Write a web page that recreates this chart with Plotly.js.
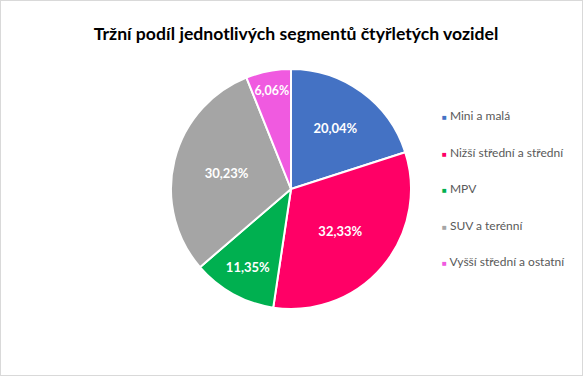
<!DOCTYPE html>
<html>
<head>
<meta charset="utf-8">
<script src="https://cdn.plot.ly/plotly-3.0.1.min.js"></script>
<style>
html,body{margin:0;padding:0;background:#fff;}
#wrap{position:absolute;left:0;top:0;width:581px;height:374px;border:1px solid #d9d9d9;overflow:hidden;}
</style>
</head>
<body>
<div id="wrap"><div id="chart"></div></div>
<script>
const categories = ["Mini a malá", "Nižší střední a střední", "MPV", "SUV a terénní", "Vyšší střední a ostatní"];
const shares = [20.04, 32.33, 11.35, 30.23, 6.06];
const colors = ["#4472C4", "#FF0066", "#00B050", "#A5A5A5", "#F05AE0"];
const titleText = "Tržní podíl jednotlivých segmentů čtyřletých vozidel";

const W = 581, H = 374;
const cx = 290, cy = 188, R = 120;

const traces = [{
  type: "pie",
  labels: categories,
  values: shares,
  sort: false,
  direction: "clockwise",
  rotation: 0,
  marker: {colors: colors, line: {color: "#ffffff", width: 2}},
  texttemplate: "%{value:.2f}%",
  textposition: "inside",
  insidetextorientation: "horizontal",
  textfont: {family: "Lato, 'Open Sans', sans-serif", size: 13, color: "#ffffff", weight: "bold"},
  hoverinfo: "label+value",
  showlegend: false,
  domain: {x: [(cx - R) / W, (cx + R) / W], y: [(H - cy - R) / H, (H - cy + R) / H]}
}];

categories.forEach((c, i) => {
  traces.push({
    type: "scatter",
    mode: "markers",
    x: [null], y: [null],
    name: '<span style="color:' + colors[i] + ';font-size:8px">■</span> ' + c,
    legendgroup: "g" + i,
    marker: {symbol: "square", size: 6, color: "rgba(0,0,0,0)"},
    showlegend: true,
    hoverinfo: "skip"
  });
});

const layout = {
  width: W, height: H,
  margin: {l: 0, r: 0, t: 0, b: 0},
  paper_bgcolor: "#ffffff",
  plot_bgcolor: "rgba(0,0,0,0)",
  separators: ",.",
  font: {family: "Lato, 'Open Sans', sans-serif", color: "#595959"},
  title: {
    text: "<b>" + titleText + "</b>",
    x: 295 / W, xanchor: "center",
    y: 1 - 33 / H, yanchor: "middle",
    font: {family: "Lato, 'Open Sans', sans-serif", size: 17.6, color: "#000000"}
  },
  xaxis: {visible: false, domain: [0.9, 1]},
  yaxis: {visible: false, domain: [0.9, 1]},
  showlegend: true,
  legend: {
    x: 401 / W, xanchor: "left",
    y: 1 - 100 / H, yanchor: "top",
    traceorder: "grouped",
    tracegroupgap: 17.5,
    itemwidth: 30,
    font: {family: "Lato, 'Open Sans', sans-serif", size: 12, color: "#595959"},
    bgcolor: "rgba(0,0,0,0)"
  }
};

Plotly.newPlot("chart", traces, layout, {displayModeBar: false, staticPlot: true});
</script>
</body>
</html>
